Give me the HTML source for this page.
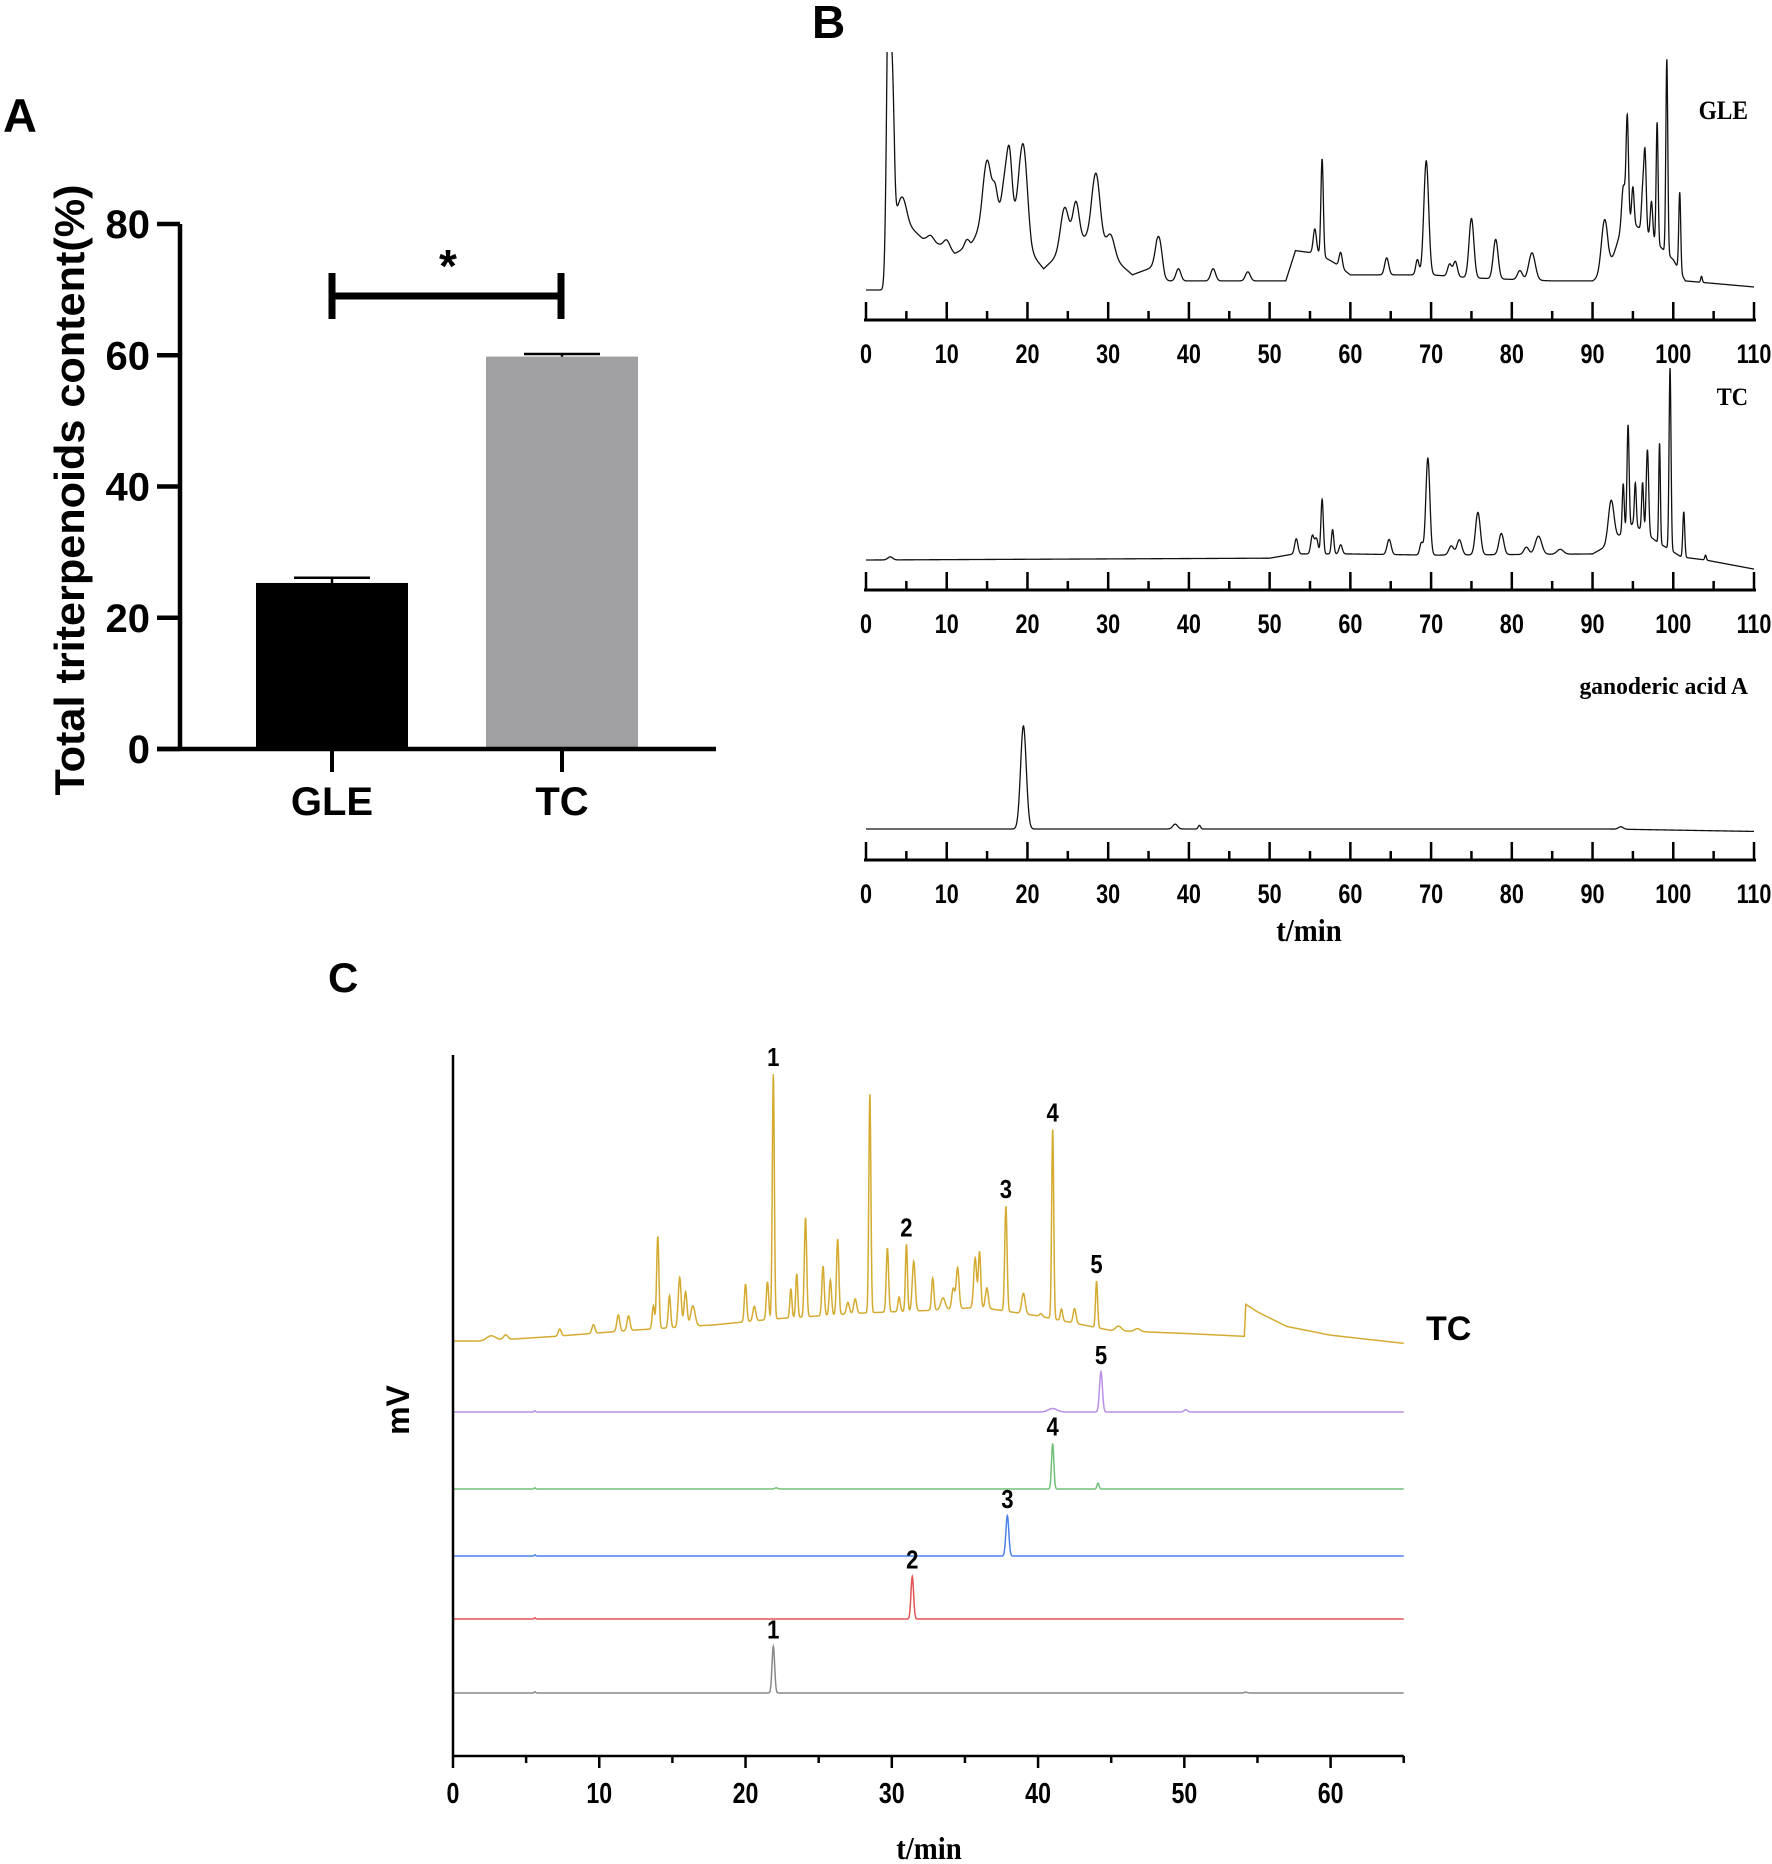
<!DOCTYPE html>
<html><head><meta charset="utf-8"><style>
html,body{margin:0;padding:0;background:#fff}
svg{display:block}
.s{font-family:"Liberation Sans",sans-serif;font-weight:bold}
.r{font-family:"Liberation Serif",serif;font-weight:bold}
</style></head><body>
<svg id="fig" width="1772" height="1864" viewBox="0 0 1772 1864" xmlns="http://www.w3.org/2000/svg">
<defs><clipPath id="clipB"><rect x="860" y="52" width="900" height="820"/></clipPath></defs>
<g id="panelA"></g>
<g id="panelB"></g>
<g id="panelC"></g>
</svg>
<script>
// ---------- Panel A data ----------
const barCategories = ["GLE", "TC"];
const barValues = [25.3, 59.8];
const barErrors = [0.8, 0.4];
const barColors = ["#000000", "#a0a0a2"];
const aTicks = [0, 20, 40, 60, 80];

// ---------- Panel B data (heights in mAU, peaks: [time, height, sigma]) ----------
const bTicks = [0,10,20,30,40,50,60,70,80,90,100,110];
const gleBaseline = [[0,0],[2.5,0],[3.5,120],[5,110],[7,85],[9,75],[11,60],[13,75],[14.5,110],[17,130],[19,120],[20.5,60],[22,35],[24,60],[26,80],[28,90],[30,60],[33,25],[36,40],[37,15],[45,15],[52,15],[53.2,65],[56,60],[58,45],[60,25],[70,25],[75,20],[85,15],[90,15],[92,30],[94,120],[97,90],[100,50],[101.5,15],[110,5]];
const glePeaks = [[2.8,500,0.25],[3.3,200,0.2],[4.5,40,0.5],[8,10,0.4],[10,15,0.4],[12.5,12,0.3],[15,100,0.5],[16,40,0.3],[17.3,60,0.4],[17.8,80,0.3],[19.5,140,0.5],[24.6,70,0.5],[26,65,0.4],[28.5,110,0.5],[30.3,35,0.5],[36.3,55,0.4],[38.7,20,0.3],[43,20,0.3],[47.3,15,0.3],[55.6,40,0.2],[56.5,160,0.15],[58.8,25,0.2],[64.5,28,0.25],[68.3,25,0.2],[69.4,188,0.3],[72.3,20,0.25],[73,25,0.25],[75,98,0.3],[78,65,0.3],[81,15,0.3],[82.5,45,0.4],[91.5,90,0.4],[93.8,60,0.2],[94.3,170,0.15],[95,60,0.15],[96.2,60,0.15],[96.5,130,0.15],[97.3,60,0.15],[98,200,0.12],[99.2,320,0.12],[100.8,130,0.12],[103.5,10,0.1]];
const tcBaseline = [[0,0],[50,3],[53,10],[60,10],[70,8],[90,10],[92,25],[95,60],[98,30],[101,5],[104,0],[110,-15]];
const tcPeaks = [[3,5,0.3],[53.3,25,0.2],[55.3,30,0.2],[55.8,25,0.2],[56.5,90,0.15],[57.8,40,0.15],[58.8,15,0.2],[64.8,25,0.25],[68.8,20,0.2],[69.6,160,0.25],[72.5,15,0.3],[73.5,25,0.3],[75.8,70,0.3],[78.7,35,0.3],[81.8,12,0.3],[83.3,30,0.4],[86,8,0.4],[92.3,70,0.35],[93.8,80,0.12],[94.4,170,0.13],[95.3,70,0.12],[96.2,80,0.12],[96.8,140,0.15],[98.3,165,0.1],[99.6,300,0.12],[101.3,75,0.12],[104,8,0.1]];
const gaaBaseline = [[0,0],[92,0],[110,-4]];
const gaaPeaks = [[19.5,170,0.35],[38.3,8,0.3],[41.3,6,0.15],[93.5,4,0.3]];

// ---------- Panel C data ----------
const cTicks = [0,10,20,30,40,50,60];
const goldBaseline = [[0,0],[2,0],[7,8],[12,18],[18,28],[22,38],[28,48],[33,53],[36,58],[40,43],[43,28],[45,18],[50,13],[54.1,8],[54.2,63],[55,50],[57,25],[60,10],[65,-4]];
const goldPeaks = [[2.6,8,0.3],[3.6,8,0.15],[7.3,12,0.1],[9.6,15,0.1],[11.3,28,0.1],[12,25,0.1],[13.7,40,0.08],[14,158,0.08],[14.8,55,0.08],[15.5,85,0.1],[15.9,60,0.1],[16.4,35,0.15],[20,65,0.08],[20.6,25,0.1],[21.5,65,0.08],[21.9,420,0.07],[23.1,50,0.07],[23.5,75,0.07],[24.1,170,0.08],[25.3,85,0.08],[25.8,60,0.08],[26.3,130,0.08],[27,20,0.1],[27.5,25,0.1],[28.5,375,0.07],[29.7,110,0.08],[30.5,25,0.08],[31,115,0.07],[31.5,85,0.1],[32.8,55,0.08],[33.5,20,0.15],[34.2,35,0.1],[34.5,70,0.1],[35.7,85,0.1],[36,95,0.08],[36.5,35,0.1],[37.8,180,0.08],[39,35,0.12],[40.2,5,0.1],[41,325,0.07],[41.6,20,0.08],[42.5,25,0.1],[44,80,0.07],[45.5,8,0.2],[46.8,5,0.2]];
const purplePeaks = [[44.3,69,0.1],[41,6,0.3],[50.1,4,0.12],[5.6,2,0.05]];
const greenPeaks = [[41,78,0.08],[44.1,10,0.07],[22.1,2,0.1],[5.6,2,0.05]];
const bluePeaks = [[37.9,69,0.1],[5.6,2,0.05]];
const redPeaks = [[31.4,73,0.09],[5.6,2,0.05]];
const grayPeaks = [[21.9,80,0.09],[5.6,2,0.05],[54.2,1.5,0.1]];
const peakLabels = ["1","2","3","4","5"];
const labelTimes = [21.9,31.4,37.9,41,44.3];
const tcLabelTimes = [21.9,31,37.8,41,44];

const NS="http://www.w3.org/2000/svg";
function mk(parent,tag,attrs,text){const e=document.createElementNS(NS,tag);for(const k in attrs)e.setAttribute(k,attrs[k]);if(text!==undefined)e.textContent=text;parent.appendChild(e);return e;}
function interp(pts,t){if(t<=pts[0][0])return pts[0][1];for(let i=1;i<pts.length;i++){if(t<=pts[i][0]){const a=pts[i-1],b=pts[i];return a[1]+(b[1]-a[1])*(t-a[0])/(b[0]-a[0]);}}return pts[pts.length-1][1];}
function signal(base,peaks,t){let v=interp(base,t);for(const p of peaks){const d=(t-p[0])/p[2];if(Math.abs(d)<6)v+=p[1]*Math.exp(-0.5*d*d);}return v;}
function tracePath(base,peaks,t0,t1,xs,ys){let d="";for(let t=t0;t<=t1+1e-9;t+=0.02){d+=(d?"L":"M")+xs(t).toFixed(2)+","+ys(signal(base,peaks,t)).toFixed(2);}return d;}

// ---------- Panel A ----------
(function(){
const g=document.getElementById('panelA');
const y=v=>749-v*(749-224)/80;
const xc=[332,562];
const bw=152;
const t=mk(g,'text',{class:'s','font-size':47,x:3,y:132},'A');

barValues.forEach((v,i)=>{
 const r=mk(g,'rect',{x:xc[i]-bw/2,y:y(v),width:bw,height:y(0)-y(v),fill:barColors[i]});
 
 const e=mk(g,'path',{d:`M${xc[i]},${y(v)}V${y(v+barErrors[i])}M${xc[i]-38},${y(v+barErrors[i])}H${xc[i]+38}`,stroke:'#000','stroke-width':2.5,fill:'none'});
 
 const tk=mk(g,'line',{x1:xc[i],x2:xc[i],y1:749,y2:772,stroke:'#000','stroke-width':4});
 
 const l=mk(g,'text',{class:'s','font-size':40,x:xc[i],y:815,'text-anchor':'middle'},barCategories[i]);
 
});
const ax=mk(g,'path',{d:`M180,224V749M157,749H716`,stroke:'#000','stroke-width':4.5,fill:'none'});

aTicks.forEach(v=>{
 const tk=mk(g,'line',{x1:157,x2:180,y1:y(v),y2:y(v),stroke:'#000','stroke-width':4.5});
 
 const l=mk(g,'text',{class:'s','font-size':40,x:150,y:y(v)+14,'text-anchor':'end'},String(v));
 
});
const yt=mk(g,'text',{class:'s','font-size':42,transform:'translate(84,490) rotate(-90)','text-anchor':'middle',textLength:611,lengthAdjust:'spacingAndGlyphs'},'Total triterpenoids content(%)');

const sb=mk(g,'path',{d:'M332,273V319M332,296H561M561,273V319',stroke:'#000','stroke-width':7,fill:'none'});

const st=mk(g,'text',{class:'s','font-size':46,x:448,y:282,'text-anchor':'middle'},'*');

})();

// ---------- Panel B ----------
(function(){
const g=document.getElementById('panelB');
const x=t=>866+t*(1754-866)/110;
const lb=mk(g,'text',{class:'s','font-size':46,x:812,y:38},'B');

const rows=[
 {name:'gle',base:gleBaseline,peaks:glePeaks,yb:290,ax:320,label:'GLE',ly:119,fs:26,sx:0.9},
 {name:'tc',base:tcBaseline,peaks:tcPeaks,yb:560,ax:590,label:'TC',ly:405,fs:25,sx:0.9},
 {name:'ganoderic-acid-a',base:gaaBaseline,peaks:gaaPeaks,yb:829,ax:860,label:'ganoderic acid A',ly:694,fs:24,sx:0.98}];
rows.forEach(r=>{
 const ys=v=>r.yb-v/1.65;
 const p=mk(g,'path',{d:tracePath(r.base,r.peaks,0,110,x,ys),stroke:'#111','stroke-width':1.3,fill:'none','clip-path':'url(#clipB)'});
 
 const a=mk(g,'line',{x1:864,x2:1756,y1:r.ax,y2:r.ax,stroke:'#000','stroke-width':3});
 
 for(let t=0;t<=110;t+=5){
  const major=t%10===0;
  const tk=mk(g,'line',{x1:x(t),x2:x(t),y1:r.ax,y2:r.ax-(major?18:9),stroke:'#000','stroke-width':2.5});
  
 }
 bTicks.forEach(v=>{
  const l=mk(g,'text',{class:'s','font-size':27,transform:`translate(${x(v)},${r.ax+43}) scale(0.8,1)`,'text-anchor':'middle'},String(v));
  
 });
 const sl=mk(g,'text',{class:'r','font-size':r.fs,transform:`translate(1748,${r.ly}) scale(${r.sx},1)`,'text-anchor':'end'},r.label);
 
});
const xt=mk(g,'text',{class:'r','font-size':32,transform:'translate(1309,941) scale(0.9,1)','text-anchor':'middle'},'t/min');

})();

// ---------- Panel C ----------
(function(){
const g=document.getElementById('panelC');
const x=t=>453+t*(1330.6-453)/60;
const k=1/1.716;
const lb=mk(g,'text',{class:'s','font-size':42,x:328,y:992},'C');

const flat=[[0,0],[65,0]];
const rows=[
 {name:'tc',base:goldBaseline,peaks:goldPeaks,yb:1341,color:'#d4ab30'},
 {name:'standard-5',base:flat,peaks:purplePeaks,yb:1412,color:'#b98fe6'},
 {name:'standard-4',base:flat,peaks:greenPeaks,yb:1489,color:'#72c078'},
 {name:'standard-3',base:flat,peaks:bluePeaks,yb:1556,color:'#4a82ea'},
 {name:'standard-2',base:flat,peaks:redPeaks,yb:1619,color:'#e25555'},
 {name:'standard-1',base:flat,peaks:grayPeaks,yb:1693,color:'#888888'}];
rows.forEach((r,i)=>{
 const ys=v=>r.yb-v*k;
 const p=mk(g,'path',{d:tracePath(r.base,r.peaks,0,65,x,ys),stroke:r.color,'stroke-width':1.5,fill:'none'});
 
});
tcLabelTimes.forEach((t,i)=>{
 const yTop=rows[0].yb-signal(goldBaseline,goldPeaks,t)*k;
 const l=mk(g,'text',{class:'s','font-size':26,transform:`translate(${x(t)},${yTop-8}) scale(0.85,1)`,'text-anchor':'middle'},peakLabels[i]);
 
});
const stdRows=[rows[5],rows[4],rows[3],rows[2],rows[1]];
labelTimes.forEach((t,i)=>{
 const r=stdRows[i];
 const yTop=r.yb-signal(r.base,r.peaks,t)*k;
 const l=mk(g,'text',{class:'s','font-size':26,transform:`translate(${x(t)},${yTop-8}) scale(0.85,1)`,'text-anchor':'middle'},peakLabels[i]);
 
});
const tcl=mk(g,'text',{class:'s','font-size':34,x:1426,y:1340},'TC');

const ax=mk(g,'path',{d:`M453,1055V1756H${x(65)}`,stroke:'#000','stroke-width':2.5,fill:'none'});

for(let t=0;t<=65;t+=5){
 const major=t%10===0;
 const tk=mk(g,'line',{x1:x(t),x2:x(t),y1:1756,y2:1756+(major?12:7),stroke:'#000','stroke-width':2.5});
 
}
cTicks.forEach(v=>{
 const l=mk(g,'text',{class:'s','font-size':29,transform:`translate(${x(v)},${1803}) scale(0.8,1)`,'text-anchor':'middle'},String(v));
 
});
const xt=mk(g,'text',{class:'r','font-size':32,transform:'translate(929,1859) scale(0.9,1)','text-anchor':'middle'},'t/min');

const yt=mk(g,'text',{class:'s','font-size':32,transform:'translate(409,1410) rotate(-90)','text-anchor':'middle'},'mV');

})();
</script>
</body></html>
